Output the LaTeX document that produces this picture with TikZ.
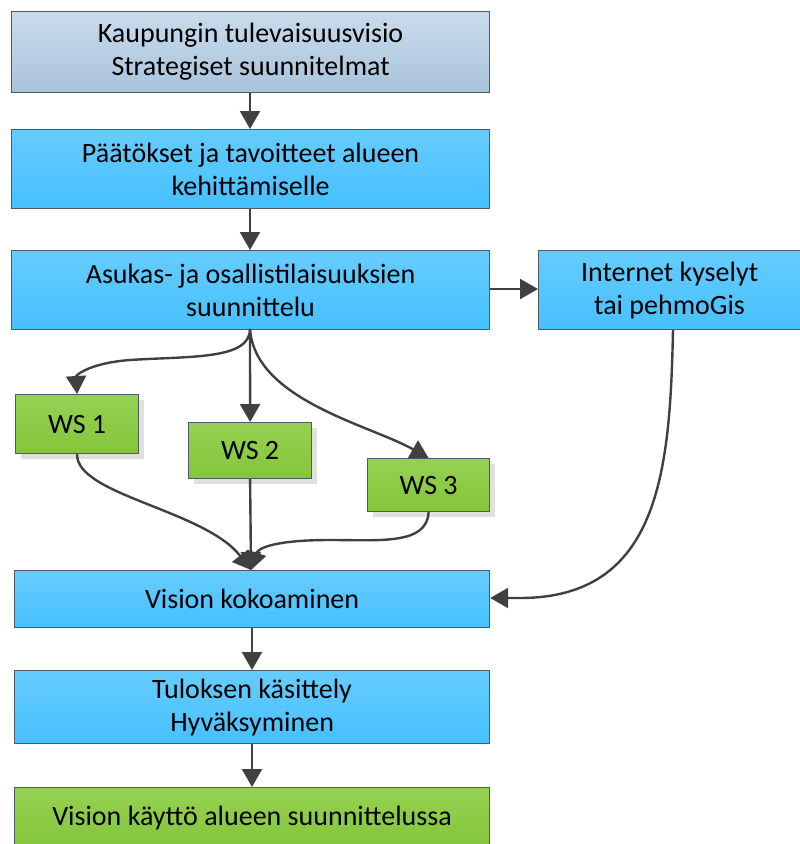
\documentclass[tikz,border=0pt]{standalone}
\usepackage{fontspec}
\setmainfont{Carlito}
\usetikzlibrary{arrows.meta,shadows}
\definecolor{edgegray}{HTML}{4E5B66}
\definecolor{arrowgray}{HTML}{404040}
\definecolor{steeltop}{HTML}{C9DBEC}
\definecolor{steelbot}{HTML}{A9C3DB}
\definecolor{skytop}{HTML}{66CCFF}
\definecolor{skybot}{HTML}{46C0FF}
\definecolor{leaftop}{HTML}{95D152}
\definecolor{leafbot}{HTML}{84C63A}
\tikzset{
  box/.style={draw=edgegray, line width=1.2pt, anchor=north west, inner sep=0pt,
    align=center, font=\fontsize{28}{33}\selectfont},
  steelbox/.style={box, top color=steeltop, bottom color=steelbot},
  skybox/.style={box, top color=skytop, bottom color=skybot},
  leafbox/.style={box, top color=leaftop, bottom color=leafbot},
  wsbox/.style={leafbox, drop shadow={shadow xshift=5pt, shadow yshift=-5pt, fill=black!12, opacity=1}},
  tip/.tip={Triangle[length=18pt, width=20pt]},
  flow/.style={draw=arrowgray, line width=2.4pt, -tip},
}
\begin{document}
\begin{tikzpicture}[x=1pt, y=-1pt]
\useasboundingbox (0,0) rectangle (800,844);

% main column
\node[steelbox, minimum width=478pt, minimum height=81pt] (vis) at (11,11)
  {Kaupungin tulevaisuusvisio\\Strategiset suunnitelmat};
\node[skybox, minimum width=478pt, minimum height=79pt] (dec) at (11,129)
  {Päätökset ja tavoitteet alueen\\kehittämiselle};
\node[skybox, minimum width=478pt, minimum height=79pt] (plan) at (11,250)
  {Asukas- ja osallistilaisuuksien\\suunnittelu};
\node[skybox, minimum width=262pt, minimum height=79pt] (web) at (538,250)
  {Internet kyselyt\\tai pehmoGis};

% workshops
\node[wsbox, minimum width=123pt, minimum height=59pt] (ws1) at (15,394) {WS 1};
\node[wsbox, minimum width=123pt, minimum height=56pt] (ws2) at (188,422) {WS 2};
\node[wsbox, minimum width=122pt, minimum height=53pt] (ws3) at (367,458) {WS 3};

% results
\node[skybox, minimum width=475pt, minimum height=57pt] (coll) at (14,570)
  {Vision kokoaminen};
\node[skybox, minimum width=475pt, minimum height=73pt] (res) at (14,670)
  {Tuloksen käsittely\\Hyväksyminen};
\node[leafbox, minimum width=475pt, minimum height=60pt] (use) at (14,787)
  {Vision käyttö alueen suunnittelussa};

% connectors
\coordinate (planb) at (250,329);
\coordinate (colltop) at (251,570);

\draw[flow] (vis.south -| 250,0) -- (dec.north -| 250,0);
\draw[flow] (dec.south -| 250,0) -- (plan.north -| 250,0);
\draw[flow] (plan.east |- 0,289) -- (web.west |- 0,289);

\draw[flow] (planb) .. controls (250,360) and (190,356) .. (130,360)
  .. controls (90,363) and (76,375) .. (ws1.north);
\draw[flow] (planb) -- (ws2.north);
\draw[flow] (planb) .. controls (255,400) and (370,425) .. (ws3.north);

\draw[flow] (ws1.south) .. controls (76,495) and (205,510) .. (colltop);
\draw[flow] (ws2.south) -- (colltop);
\draw[flow] (ws3.south) .. controls (427,545) and (380,540) .. (330,540)
  .. controls (275,540) and (258,548) .. (colltop);

\draw[flow] (web.south -| 673,0) .. controls (670,470) and (660,598) .. (520,598)
  -- (coll.east |- 0,598);

\draw[flow] (coll.south -| 252,0) -- (res.north -| 252,0);
\draw[flow] (res.south -| 252,0) -- (use.north -| 252,0);
\end{tikzpicture}
\end{document}
